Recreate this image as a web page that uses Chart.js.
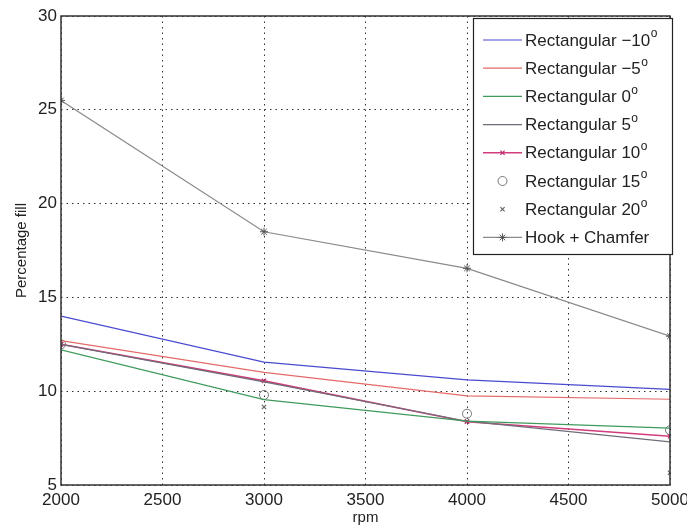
<!DOCTYPE html>
<html>
<head>
<meta charset="utf-8">
<script src="https://cdn.jsdelivr.net/npm/chart.js@4/dist/chart.umd.min.js"></script>
<style>
html,body{margin:0;padding:0;background:#fff;}
#wrap{width:687px;height:527px;}
</style>
</head>
<body>
<div id="wrap"><canvas id="c" width="687" height="527"></canvas></div>
<script>
const rpm = [2000, 3000, 4000, 5000];
const xTicks = [2000, 2500, 3000, 3500, 4000, 4500, 5000];
const yTicks = [5, 10, 15, 20, 25, 30];
const rectM10 = [14.0, 11.55, 10.6, 10.1];
const rectM5 = [12.7, 11.0, 9.75, 9.57];
const rect0 = [12.2, 9.55, 8.4, 8.03];
const rect5 = [12.5, 10.5, 8.4, 7.3];
const rect10 = [12.5, 10.55, 8.37, 7.6];
const rect15 = [12.5, 9.8, 8.8, 7.92];
const rect20 = [12.5, 9.16, 8.4, 5.65];
const hookChamfer = [25.5, 18.5, 16.55, 12.93];
const labels = ['Rectangular \u221210', 'Rectangular \u22125', 'Rectangular 0', 'Rectangular 5', 'Rectangular 10', 'Rectangular 15', 'Rectangular 20', 'Hook + Chamfer'];
const supers = ['o','o','o','o','o','o','o',''];

function pts(vals){ return rpm.map((x,i)=>({x:x,y:vals[i]})); }

const FONT = "'Liberation Sans', Arial, sans-serif";

const datasets = [
  {label:labels[0], data:pts(rectM10), borderColor:'#4a4ad0', showLine:true, pointRadius:0, borderWidth:1.2},
  {label:labels[1], data:pts(rectM5), borderColor:'#e46a6a', showLine:true, pointRadius:0, borderWidth:1.2},
  {label:labels[2], data:pts(rect0), borderColor:'#3f9a5c', showLine:true, pointRadius:0, borderWidth:1.2},
  {label:labels[3], data:pts(rect5), borderColor:'#6e6e78', showLine:true, pointRadius:0, borderWidth:1.2},
  {label:labels[4], data:pts(rect10), borderColor:'#d23c7c', pointBorderColor:'#c03070', showLine:true, pointStyle:'crossRot', pointRadius:3, borderWidth:1.6, pointBorderWidth:1.2},
  {label:labels[5], data:pts(rect15), borderColor:'#777', showLine:false, pointStyle:'circle', pointRadius:4.5, pointBorderWidth:1, pointBackgroundColor:'rgba(0,0,0,0)', pointBorderColor:'#777'},
  {label:labels[6], data:pts(rect20), borderColor:'#666', showLine:false, pointStyle:'crossRot', pointRadius:3, pointBorderWidth:1.2, pointBorderColor:'#666'},
  {label:labels[7], data:pts(hookChamfer), borderColor:'#8a8a8a', pointBorderColor:'#555', showLine:true, pointStyle:'star', pointRadius:4, borderWidth:1.2, pointBorderWidth:1}
];

const frameAndLegend = {
  id:'frameAndLegend',
  afterDraw(chart){
    const ctx = chart.ctx;
    const a = chart.chartArea;
    ctx.save();
    ctx.strokeStyle = '#333';
    ctx.lineWidth = 1.5;
    ctx.strokeRect(a.left, a.top, a.right-a.left, a.bottom-a.top);
    // legend box
    const bx = 473, by = 18, bw = 199, bh = 236;
    ctx.fillStyle = '#fff';
    ctx.fillRect(bx, by, bw, bh);
    ctx.strokeStyle = '#222';
    ctx.lineWidth = 1.2;
    ctx.strokeRect(bx+0.5, by+0.5, bw, bh);
    const rowY0 = 40, rowStep = 28.2;
    chart.data.datasets.forEach((ds, i) => {
      const y = rowY0 + i*rowStep;
      const x0 = 483, x1 = 522;
      if (ds.showLine) {
        ctx.strokeStyle = ds.borderColor;
        ctx.lineWidth = ds.borderWidth || 1;
        ctx.beginPath(); ctx.moveTo(x0, y); ctx.lineTo(x1, y); ctx.stroke();
      }
      if (ds.pointRadius > 0) {
        ctx.strokeStyle = ds.pointBorderColor || ds.borderColor;
        ctx.lineWidth = ds.pointBorderWidth||1;
        ctx.beginPath();
        const r = ds.pointRadius;
        const c = (x0+x1)/2, d = r*0.7;
        if (ds.pointStyle === 'circle') { ctx.arc(c, y, r, 0, Math.PI*2); }
        else if (ds.pointStyle === 'crossRot') { ctx.moveTo(c-d,y-d);ctx.lineTo(c+d,y+d);ctx.moveTo(c+d,y-d);ctx.lineTo(c-d,y+d); }
        else if (ds.pointStyle === 'star') { ctx.moveTo(c-r,y);ctx.lineTo(c+r,y);ctx.moveTo(c,y-r);ctx.lineTo(c,y+r);ctx.moveTo(c-d,y-d);ctx.lineTo(c+d,y+d);ctx.moveTo(c+d,y-d);ctx.lineTo(c-d,y+d); }
        ctx.stroke();
      }
      ctx.fillStyle = '#222';
      ctx.font = '17px ' + FONT;
      ctx.textBaseline = 'middle';
      ctx.textAlign = 'left';
      ctx.fillText(ds.label, 525, y+1);
      const w = ctx.measureText(ds.label).width;
      if (supers[i]) {
        ctx.font = '12px ' + FONT;
        ctx.fillText(supers[i], 525 + w + 0.5, y - 6);
      }
    });
    ctx.restore();
  }
};

new Chart(document.getElementById('c'), {
  type:'scatter',
  data:{datasets:datasets},
  plugins:[frameAndLegend],
  options:{
    responsive:false,
    animation:false,
    devicePixelRatio:1,
    layout:{padding:{top:16, right:17, left:0, bottom:0}},
    elements:{line:{tension:0}},
    plugins:{legend:{display:false}, tooltip:{enabled:false}},
    scales:{
      x:{
        type:'linear', min:2000, max:5000,
        afterBuildTicks(s){ s.ticks = xTicks.map(v=>({value:v})); },
        afterFit(s){ s.height = 42; s.paddingLeft = 0; s.paddingRight = 0; },
        grid:{color:'#333', lineWidth:1, drawTicks:false},
        border:{display:false, dash:[1.5,4]},
        ticks:{color:'#222', font:{family:FONT, size:17}, padding:5, maxRotation:0, autoSkip:false, callback:(v)=>String(v)},
        title:{display:true, text:'rpm', color:'#222', font:{family:FONT, size:15}, padding:{top:-3, bottom:0}}
      },
      y:{
        type:'linear', min:5, max:30,
        afterBuildTicks(s){ s.ticks = yTicks.map(v=>({value:v})); },
        afterFit(s){ s.width = 61; s.paddingTop = 0; s.paddingBottom = 0; },
        grid:{color:'#333', lineWidth:1, drawTicks:false},
        border:{display:false, dash:[1.5,4]},
        ticks:{color:'#222', font:{family:FONT, size:17}, padding:4, autoSkip:false, callback:(v)=>String(v)},
        title:{display:true, text:'Percentage fill', color:'#222', font:{family:FONT, size:15}, padding:{top:13,bottom:0}}
      }
    }
  }
});
</script>
</body>
</html>
